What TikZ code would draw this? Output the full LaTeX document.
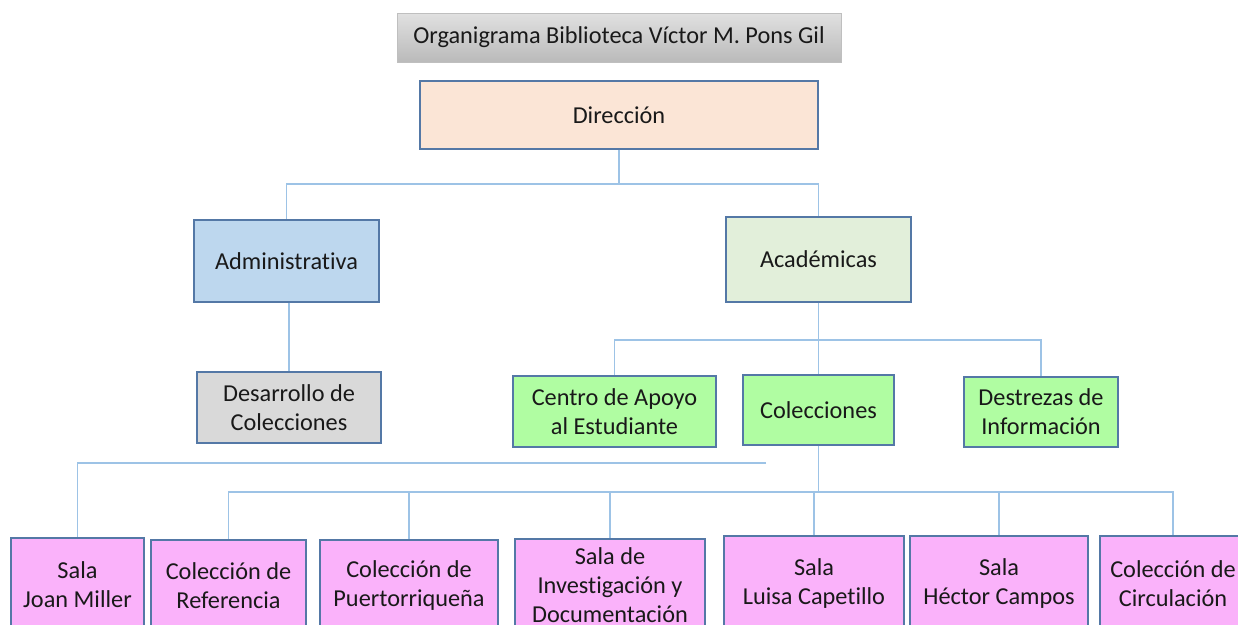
\documentclass[tikz,border=0pt]{standalone}
\usepackage{fontspec}
\setmainfont[Ligatures={NoCommon}]{Carlito}
\definecolor{bordc}{RGB}{84,120,166}
\definecolor{connc}{RGB}{157,195,230}
\definecolor{dirc}{RGB}{251,229,214}
\definecolor{admc}{RGB}{189,215,238}
\definecolor{acac}{RGB}{226,239,218}
\definecolor{grayc}{RGB}{217,217,217}
\definecolor{greenc}{RGB}{176,253,162}
\definecolor{pinkc}{RGB}{250,178,250}
\begin{document}
\begin{tikzpicture}[x=1pt,y=-1pt,
  box/.style={draw=bordc,line width=1.3pt,align=center,inner sep=2pt,
    font=\fontsize{24.3}{29}\selectfont,text=black!90},
  conn/.style={draw=connc,line width=1.2pt}]
\useasboundingbox (0,0) rectangle (1238,624);
\clip (0,0) rectangle (1238,624);
\fill[white] (0,0) rectangle (1238,624);
% title
\node[box,draw=black!25,line width=0.8pt,top color=black!12,bottom color=black!27,
  minimum width=444pt,minimum height=49pt] (title) at (619,37.5)
  {Organigrama Biblioteca Víctor M. Pons Gil};
\node[box,fill=dirc,minimum width=398pt,minimum height=68pt] (dir) at (619,115) {Dirección};
\node[box,fill=admc,minimum width=185pt,minimum height=82pt] (adm) at (286.5,261) {Administrativa};
\node[box,fill=acac,minimum width=185pt,minimum height=85pt] (aca) at (818.5,259.5) {Académicas};
\node[box,fill=grayc,minimum width=184pt,minimum height=71pt] (des) at (289,407.5) {Desarrollo de\\Colecciones};
\node[box,fill=greenc,minimum width=203pt,minimum height=71pt] (cen) at (614.5,411.5) {Centro de Apoyo\\al Estudiante};
\node[box,fill=greenc,minimum width=151pt,minimum height=70pt] (col) at (818.5,410) {Colecciones};
\node[box,fill=greenc,minimum width=154pt,minimum height=70pt] (dst) at (1041,412) {Destrezas de\\Información};
% bottom row
\node[box,fill=pinkc,minimum width=133pt,minimum height=94pt] (joan) at (77.5,585) {Sala\\Joan Miller};
\node[box,fill=pinkc,minimum width=155pt,minimum height=92pt] (ref) at (228.5,586) {Colección de\\Referencia};
\node[box,fill=pinkc,minimum width=178pt,minimum height=92pt] (pue) at (409,586) {Colección de\\Puertorriqueña};
\node[box,fill=pinkc,minimum width=190pt,minimum height=92pt] (inv) at (610,585) {Sala de\\Investigación y\\Documentación};
\node[box,fill=pinkc,minimum width=180pt,minimum height=96pt] (lui) at (814,584) {Sala\\Luisa Capetillo};
\node[box,fill=pinkc,minimum width=178pt,minimum height=96pt] (hec) at (999,584) {Sala\\Héctor Campos};
\node[box,fill=pinkc,minimum width=146pt,minimum height=96pt] (cir) at (1173,584) {Colección de\\Circulación};
% connectors
\coordinate (j1) at (619,184);
\draw[conn] (dir.south) -- (j1);
\draw[conn] (j1) -| (adm.north);
\draw[conn] (j1) -| (aca.north);
\draw[conn] (des.north |- adm.south) -- (des.north);
\coordinate (j2) at (818.5,340);
\draw[conn] (aca.south) -- (j2);
\draw[conn] (j2) -| (cen.north);
\draw[conn] (j2) -- (col.north);
\draw[conn] (j2) -| (dst.north);
\coordinate (free) at (766,463);
\draw[conn] (free) -| (joan.north);
\coordinate (j3) at (818.5,492);
\draw[conn] (col.south) -- (j3);
\foreach \n in {ref,pue,inv,lui,hec,cir}{\draw[conn] (j3) -| (\n.north);}
\end{tikzpicture}
\end{document}
